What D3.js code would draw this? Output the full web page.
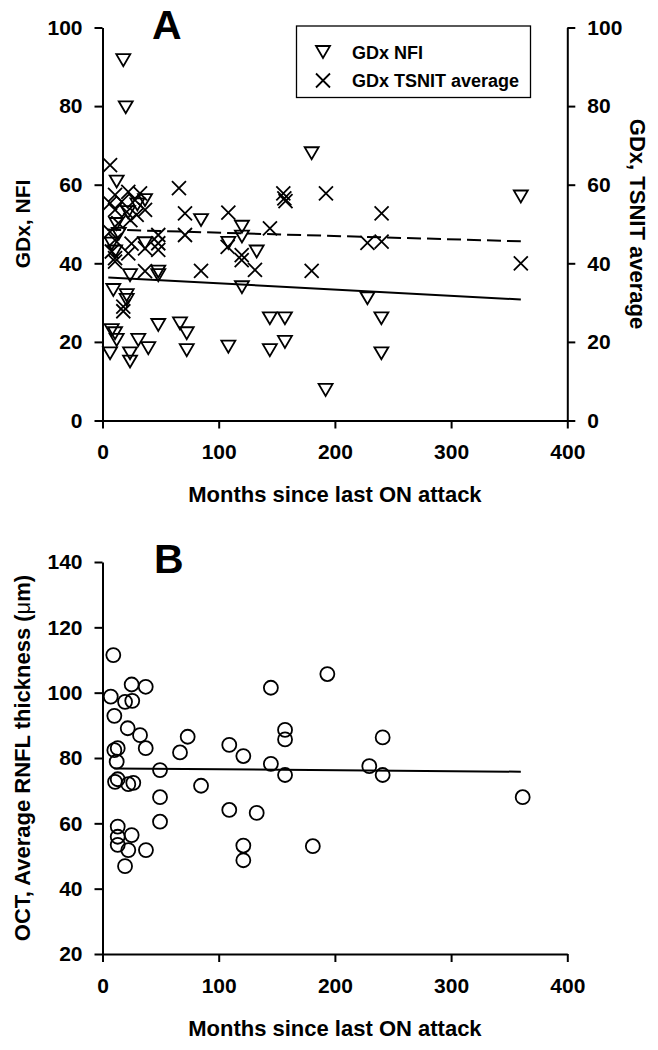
<!DOCTYPE html>
<html><head><meta charset="utf-8">
<script src="https://cdn.jsdelivr.net/npm/d3@7"></script>
<style>
body{margin:0;background:#fff;}
svg text{font-family:Arial,"Liberation Sans",Helvetica,sans-serif;font-weight:bold;fill:#000;}
</style></head>
<body><svg id="c" width="658" height="1050"></svg>
<script>
// ---- data ----
const xTicks = [0,100,200,300,400];
const yTicksA = [0,20,40,60,80,100];
const yTicksB = [20,40,60,80,100,120,140];

// Panel A: GDx NFI  [months, value]
const nfiMonths = [17.9,20,12.2,36.6,84.8,180,360,228,144,157,240,144,157,240,192,120,120,108.3,132.7,120,36.6,10.8,23.7,48,48,9.3,20.8,20.8,7.9,10.8,30.8,39.4,23.7,23.7,6.5,12.2,48,66.7,72.5,72.5,108.3,12,14,22,30,8];
const nfiValues = [91.7,79.7,60.8,56.1,51,68,57,31.1,26,26,26,17.9,20,17.1,7.8,49.3,46.8,45.2,43,33.9,45.1,43,37,37.9,37,33.2,31.9,30.7,23,22.2,20.5,18.4,17.1,15,17.1,20.5,24.3,24.7,22.2,17.9,18.8,50,47.5,53,55,45];

// Panel A: GDx TSNIT average [months, value]
const tsnitMonths = [6.5,65.8,155.6,156.5,157.5,71,108.3,10.8,22.2,32.3,6.5,16.5,28,36.6,10.8,20.8,192.3,240.2,228,240.2,180,360,144.1,71,107.7,119.8,119.8,131.2,84.8,48,48,48,36.6,36.6,10.8,10.8,22.2,17.9,17.9,6.5,10.8,24,29.4,13.6,8,25];
const tsnitValues = [65,59.1,57.8,56.5,55.8,52.7,52.9,57.4,58.2,57.8,55.3,55.7,56.1,53.6,53.6,53.1,57.8,52.7,45.2,45.5,38.1,40,48.9,47.2,44.2,42.1,40.8,38.3,38.1,47.2,45.1,43.4,43.8,38,41.3,40.4,42.5,29,27.8,48,45.9,51,52.3,50.2,43,45];

// Regression lines (end points)
const nfiFitX = [5,360], nfiFitY = [36.4,30.8];
const tsnitFitX = [4,360], tsnitFitY = [48.6,45.6];

// Panel B: OCT average RNFL thickness
const octMonths = [9.3,7.1,25.1,37.2,19.4,25.6,10.2,21.7,32.3,37.2,10.2,13.1,12.2,10.8,13.1,22.2,26.5,49.5,73.3,66.7,49.5,49.5,84.8,109.1,121.2,109.1,132.7,144.9,157.1,157.1,144.9,157.1,13.1,13.1,25.1,13.1,22.2,37.4,19.4,193.5,241.1,229.6,241.1,361.6,121.2,121.2,181];
const octValues = [111.5,98.8,102.5,101.8,97.2,97.5,92.9,89.1,87,83,82.4,83,78.9,72.7,73.5,72,72.4,76.3,86.5,81.7,68,60.5,71.5,84,80.6,64.1,63.2,101.5,88.6,85.7,78.2,74.8,59,55.9,56.4,53.4,51.8,51.8,46.9,105.7,86.3,77.5,74.8,68,53.2,48.7,53];
const octFitX = [10,360], octFitY = [76.8,75.8];

// ---- drawing ----
const svg = d3.select("#c");
const X0 = 102.5, X1 = 567.3;
const x = d3.scaleLinear().domain([0,400]).range([X0,X1]);
const yA = d3.scaleLinear().domain([0,100]).range([420.5,27.5]);
const yB = d3.scaleLinear().domain([20,140]).range([954,562]);

function styleAxis(g){
  g.selectAll("path.domain").attr("stroke","#000").attr("stroke-width",2);
  g.selectAll(".tick line").attr("stroke","#000").attr("stroke-width",2);
  g.selectAll(".tick text").attr("font-size",21).attr("font-family","Arial, 'Liberation Sans', sans-serif").attr("font-weight","bold").attr("fill","#000");
}

// Panel A axes
svg.append("g").attr("transform",`translate(0,${yA(0)})`)
  .call(d3.axisBottom(x).tickValues(xTicks).tickSize(8).tickSizeOuter(0).tickPadding(16))
  .call(styleAxis);
svg.append("g").attr("transform",`translate(${X0},0)`)
  .call(d3.axisLeft(yA).tickValues(yTicksA).tickSize(8).tickSizeOuter(0).tickPadding(12))
  .call(styleAxis);
svg.append("g").attr("transform",`translate(${X1},0)`)
  .call(d3.axisRight(yA).tickValues(yTicksA).tickSize(8).tickSizeOuter(0).tickPadding(12))
  .call(styleAxis);

// Panel B axes
svg.append("g").attr("transform",`translate(0,${yB(20)})`)
  .call(d3.axisBottom(x).tickValues(xTicks).tickSize(8).tickSizeOuter(0).tickPadding(16))
  .call(styleAxis);
svg.append("g").attr("transform",`translate(${X0},0)`)
  .call(d3.axisLeft(yB).tickValues(yTicksB).tickSize(8).tickSizeOuter(0).tickPadding(12))
  .call(styleAxis);

// Titles
svg.append("text").attr("x",152).attr("y",38.5).attr("font-size",41).text("A");
svg.append("text").attr("x",154).attr("y",573).attr("font-size",41).text("B");
svg.append("text").attr("x",(X0+X1)/2).attr("y",502).attr("text-anchor","middle").attr("font-size",22).text("Months since last ON attack");
svg.append("text").attr("x",(X0+X1)/2).attr("y",1036).attr("text-anchor","middle").attr("font-size",22).text("Months since last ON attack");
svg.append("text").attr("transform",`translate(30,${(yA(0)+yA(100))/2}) rotate(-90)`).attr("text-anchor","middle").attr("font-size",21).text("GDx, NFI");
svg.append("text").attr("transform",`translate(630,${(yA(0)+yA(100))/2}) rotate(90)`).attr("text-anchor","middle").attr("font-size",22).text("GDx, TSNIT average");
svg.append("text").attr("transform",`translate(29.5,${(yB(20)+yB(140))/2}) rotate(-90)`).attr("text-anchor","middle").attr("font-size",22)
  .text("OCT, Average RNFL thickness (").append("tspan").attr("font-weight","normal").text("\u03bc").select(function(){return this.parentNode;}).append("tspan").text("m)");

// marker shapes
const triPath = "M-7,-6L7,-6L0,6Z";
const crossPath = "M-7,-7L7,7M-7,7L7,-7";

// regression lines
const line = d3.line();
svg.append("path").attr("d",line(nfiFitX.map((m,i)=>[x(m),yA(nfiFitY[i])])))
  .attr("stroke","#000").attr("stroke-width",2).attr("fill","none");
svg.append("path").attr("d",line(tsnitFitX.map((m,i)=>[x(m),yA(tsnitFitY[i])])))
  .attr("stroke","#000").attr("stroke-width",2).attr("fill","none").attr("stroke-dasharray","14,6");
svg.append("path").attr("d",line(octFitX.map((m,i)=>[x(m),yB(octFitY[i])])))
  .attr("stroke","#000").attr("stroke-width",2).attr("fill","none");

// points A
svg.append("g").selectAll("path").data(nfiMonths.map((m,i)=>[m,nfiValues[i]])).join("path")
  .attr("transform",d=>`translate(${x(d[0])},${yA(d[1])})`).attr("d",triPath)
  .attr("fill","none").attr("stroke","#000").attr("stroke-width",1.8).attr("stroke-linejoin","miter");
svg.append("g").selectAll("path").data(tsnitMonths.map((m,i)=>[m,tsnitValues[i]])).join("path")
  .attr("transform",d=>`translate(${x(d[0])},${yA(d[1])})`).attr("d",crossPath)
  .attr("fill","none").attr("stroke","#000").attr("stroke-width",1.8);

// points B
svg.append("g").selectAll("circle").data(octMonths.map((m,i)=>[m,octValues[i]])).join("circle")
  .attr("cx",d=>x(d[0])).attr("cy",d=>yB(d[1])).attr("r",7)
  .attr("fill","none").attr("stroke","#000").attr("stroke-width",1.8);

// legend
const lg = svg.append("g");
lg.append("rect").attr("x",296.5).attr("y",26).attr("width",234).attr("height",71.5)
  .attr("fill","#fff").attr("stroke","#000").attr("stroke-width",1.3);
const legItems = [{label:"GDx NFI",shape:triPath},{label:"GDx TSNIT average",shape:crossPath}];
legItems.forEach((it,i)=>{
  const cy = 52 + i*28.5;
  lg.append("path").attr("transform",`translate(323,${cy})`).attr("d",it.shape)
    .attr("fill","none").attr("stroke","#000").attr("stroke-width",1.8);
  lg.append("text").attr("x",352).attr("y",cy+6.5).attr("font-size",18).text(it.label);
});
</script></body></html>
